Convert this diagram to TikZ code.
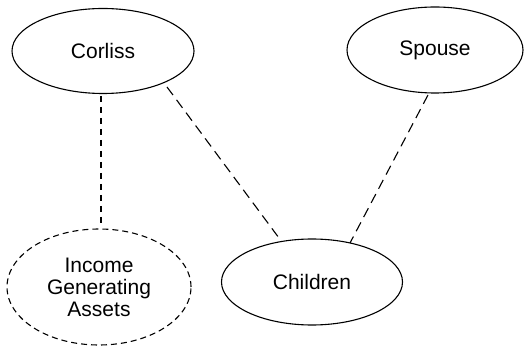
\documentclass[tikz,border=0pt]{standalone}
\usepackage{fontspec}
\setmainfont{Liberation Sans}
\usetikzlibrary{shapes.geometric,calc}
\begin{document}
\begin{tikzpicture}[x=1pt,y=-1pt,
  ent/.style={ellipse,draw,line width=1.1pt,inner sep=0pt,align=center,
    font=\fontsize{21}{22}\selectfont},
  link/.style={line width=1.1pt,dash pattern=on 10pt off 6pt},
  shortlink/.style={line width=1.2pt,dash pattern=on 6pt off 5pt}]
\useasboundingbox (0,0) rectangle (527,347);
\node[ent,minimum width=182pt,minimum height=85pt] (corliss) at (103,51) {Corliss};
\node[ent,minimum width=176pt,minimum height=86pt] (spouse) at (435,50) {Spouse};
\node[ent,minimum width=181pt,minimum height=86pt] (children) at (312,282) {Children};
\node[ent,minimum width=184pt,minimum height=116pt,dash pattern=on 6pt off 4pt] (income) at (99,287) {Income\\Generating\\Assets};
\draw[shortlink] ($(corliss.center)+(-2,45)$) -- ($(income.center)+(2,-64)$);
\draw[link] ($(corliss.center)+(64,36)$) -- ($(children.center)+(-33,-44)$);
\draw[link] ($(spouse.center)+(-7,45)$) -- ($(children.center)+(38,-39)$);
\end{tikzpicture}
\end{document}
